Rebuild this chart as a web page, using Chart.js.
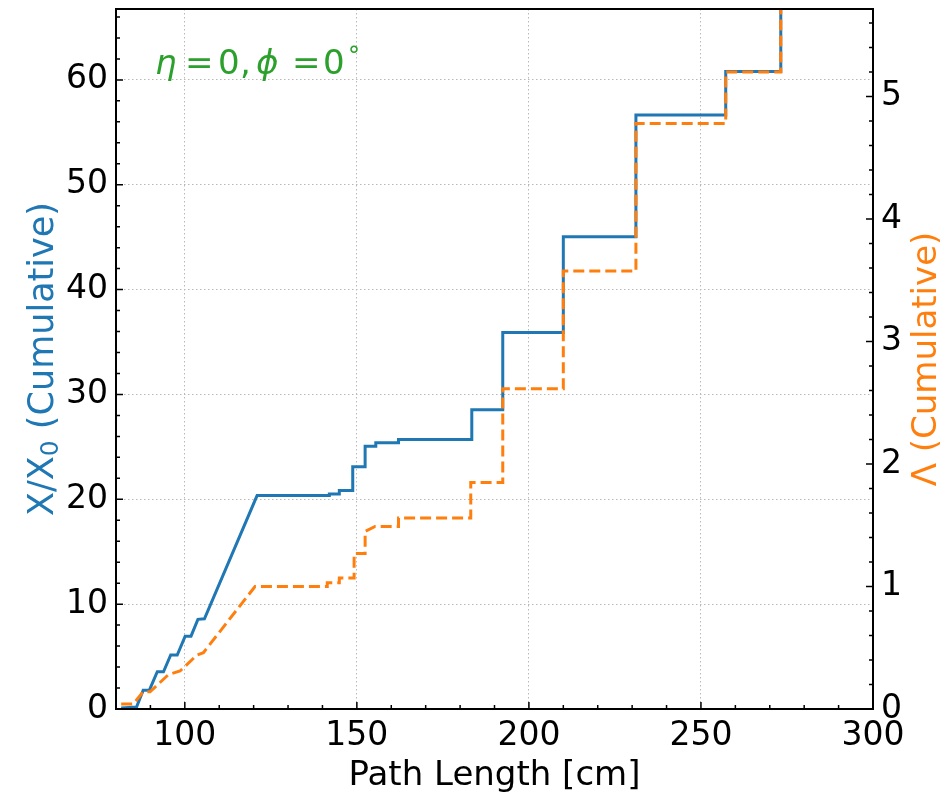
<!DOCTYPE html>
<html>
<head>
<meta charset="utf-8">
<script src="https://cdn.jsdelivr.net/npm/chart.js@4.4.0/dist/chart.umd.min.js"></script>
<style>
  html, body { margin: 0; padding: 0; background: #fff; }
  #wrap { width: 947px; height: 795px; }
</style>
</head>
<body>
<div id="wrap"><canvas id="chart" width="947" height="795"></canvas></div>
<script>
// cumulative radiation length X/X0 vs path length [cm]
const radX = [81.5, 86.0, 87.9, 89.7, 92.0, 93.8, 95.9, 97.8, 100.1, 101.8, 103.8, 105.7, 121.0,
  142.0, 142.0, 144.9, 144.9, 148.8, 148.8, 152.4, 152.4, 155.5, 155.5, 162.1, 162.1,
  183.4, 183.4, 192.4, 192.4, 210.0, 210.0, 231.1, 231.1, 257.2, 257.2, 273.2, 273.2];
const radY = [0.1, 0.2, 1.8, 1.8, 3.55, 3.55, 5.15, 5.15, 6.95, 6.95, 8.55, 8.6, 20.35,
  20.35, 20.5, 20.5, 20.85, 20.85, 23.1, 23.1, 25.05, 25.05, 25.4, 25.4, 25.7,
  25.7, 28.55, 28.55, 35.9, 35.9, 45.05, 45.05, 56.65, 56.65, 60.8, 60.8, 70];

// cumulative interaction length Lambda vs path length [cm]
const intX = [81.5, 85.0, 87.9, 89.9, 95.2, 98.6, 103.5, 105.4, 120.4,
  141.4, 141.4, 144.9, 144.9, 149.2, 149.2, 152.4, 152.4, 155.3, 162.1, 162.1,
  183.1, 183.1, 192.4, 192.4, 210.0, 210.0, 231.1, 231.1, 257.2, 257.2, 273.2, 273.2];
const intY = [0.04, 0.04, 0.14, 0.14, 0.28, 0.31, 0.44, 0.46, 1.0,
  1.0, 1.03, 1.03, 1.07, 1.07, 1.27, 1.27, 1.45, 1.49, 1.49, 1.56,
  1.56, 1.85, 1.85, 2.615, 2.615, 3.575, 3.575, 4.78, 4.78, 5.2, 5.2, 6];

const xTicks = [100, 150, 200, 250, 300];
const leftTicks = [0, 10, 20, 30, 40, 50, 60];
const rightTicks = [0, 1, 2, 3, 4, 5];

const FONT = "'DejaVu Sans', 'Liberation Sans', sans-serif";
const BLUE = '#1f77b4';
const ORANGE = '#ff7f0e';
const GREEN = '#2ca02c';

function pts(xs, ys) {
  return xs.map((x, i) => ({ x: x, y: ys[i] }));
}

function setTicks(list) {
  return function (scale) {
    scale.ticks = list.map(v => ({ value: v }));
  };
}

function noPad(scale) {
  scale.paddingTop = 0;
  scale.paddingBottom = 0;
  scale.paddingLeft = 0;
  scale.paddingRight = 0;
}

// frame, inward tick marks, axis titles and the label in the corner
const decorations = {
  id: 'decorations',
  afterDraw(chart) {
    const ctx = chart.ctx;
    const a = chart.chartArea;
    const sx = chart.scales.x, sl = chart.scales.y, sr = chart.scales.y2;
    ctx.save();

    // tick marks pointing inside
    ctx.strokeStyle = '#000';
    ctx.lineWidth = 1.5;
    ctx.beginPath();
    for (let v = 80; v <= 300; v += 10) {
      const px = sx.getPixelForValue(v);
      const len = v % 50 === 0 ? 7 : 4;
      ctx.moveTo(px, a.bottom); ctx.lineTo(px, a.bottom - len);
    }
    for (let v = 0; v <= 66; v += 2) {
      const py = sl.getPixelForValue(v);
      const len = v % 10 === 0 ? 7 : 4;
      ctx.moveTo(a.left, py); ctx.lineTo(a.left + len, py);
    }
    for (let i = 0; i <= 28; i++) {
      const py = sr.getPixelForValue(i * 0.2);
      const len = i % 5 === 0 ? 7 : 4;
      ctx.moveTo(a.right, py); ctx.lineTo(a.right - len, py);
    }
    ctx.stroke();

    // frame
    ctx.lineWidth = 2;
    ctx.strokeRect(a.left, a.top, a.right - a.left, a.bottom - a.top);

    const midY = (a.top + a.bottom) / 2;
    const midX = (a.left + a.right) / 2;

    // x title
    ctx.fillStyle = '#000';
    ctx.font = '34px ' + FONT;
    ctx.textAlign = 'center';
    ctx.textBaseline = 'alphabetic';
    ctx.fillText('Path Length [cm]', midX, 785);
    ctx.textAlign = 'left';

    // left title
    ctx.save();
    ctx.translate(53, midY);
    ctx.rotate(-Math.PI / 2);
    ctx.fillStyle = BLUE;
    ctx.textBaseline = 'alphabetic';
    const big = '35px ' + FONT, small = '25px ' + FONT;
    ctx.font = big;
    const p1 = 'X/X', p3 = ' (Cumulative)';
    const w1 = ctx.measureText(p1).width, w3 = ctx.measureText(p3).width;
    ctx.font = small;
    const w2 = ctx.measureText('0').width;
    let x0 = -(w1 + w2 + w3) / 2;
    ctx.font = big; ctx.fillText(p1, x0, 0);
    ctx.font = small; ctx.fillText('0', x0 + w1, 5);
    ctx.font = big; ctx.fillText(p3, x0 + w1 + w2, 0);
    ctx.restore();

    // right title
    ctx.save();
    ctx.translate(936, midY);
    ctx.rotate(-Math.PI / 2);
    ctx.fillStyle = ORANGE;
    ctx.font = '34px ' + FONT;
    ctx.textAlign = 'center';
    ctx.textBaseline = 'alphabetic';
    ctx.fillText('\u039B (Cumulative)', 0, 0);
    ctx.restore();

    // eta / phi label, glyph by glyph like mathtext
    ctx.fillStyle = GREEN;
    ctx.textBaseline = 'alphabetic';
    const ty = a.top + 65;
    const it = 'italic 34px ' + FONT, up = '34px ' + FONT;
    const glyphs = [
      [it, '\u03B7', 39, 0],
      [up, '=', 69, 0],
      [up, '0', 102, 0],
      [up, ',', 124, 0],
      [it, '\u03D5', 140, 0],
      [up, '=', 176, 0],
      [up, '0', 207, 0],
      ['24px ' + FONT, '\u00B0', 232, -10]
    ];
    glyphs.forEach(g => {
      ctx.font = g[0];
      ctx.fillText(g[1], a.left + g[2], ty + g[3]);
    });

    ctx.restore();
  }
};

Chart.defaults.font.family = FONT;

new Chart(document.getElementById('chart'), {
  type: 'line',
  data: {
    datasets: [
      {
        label: 'Lambda',
        data: pts(intX, intY),
        yAxisID: 'y2',
        borderColor: ORANGE,
        borderWidth: 3,
        borderDash: [11, 5],
        pointRadius: 0,
        tension: 0,
        fill: false,
        order: 0,
        clip: { left: 5, top: 0, right: 5, bottom: 5 }
      },
      {
        label: 'X/X0',
        data: pts(radX, radY),
        yAxisID: 'y',
        borderColor: BLUE,
        borderWidth: 3,
        pointRadius: 0,
        tension: 0,
        fill: false,
        order: 1,
        clip: { left: 5, top: 0, right: 5, bottom: 5 }
      }
    ]
  },
  options: {
    responsive: false,
    animation: false,
    devicePixelRatio: 1,
    layout: { padding: { top: 9, left: 0, right: 0, bottom: 0 } },
    plugins: {
      legend: { display: false },
      tooltip: { enabled: false }
    },
    scales: {
      x: {
        type: 'linear',
        min: 80,
        max: 300,
        afterBuildTicks: setTicks(xTicks),
        afterFit(scale) { scale.height = 86; noPad(scale); },
        grid: { color: '#b8b8b8', lineWidth: 1, drawTicks: false },
        border: { display: false, dash: [1.5, 2.5] },
        ticks: { color: '#000', font: { size: 33 }, padding: 8, maxRotation: 0 }
      },
      y: {
        type: 'linear',
        position: 'left',
        min: 0,
        max: 66.76,
        afterBuildTicks: setTicks(leftTicks),
        afterFit(scale) { scale.width = 116; noPad(scale); },
        grid: { color: '#b8b8b8', lineWidth: 1, drawTicks: false },
        border: { display: false, dash: [1.5, 2.5] },
        ticks: { color: '#000', font: { size: 33 }, padding: 8 }
      },
      y2: {
        type: 'linear',
        position: 'right',
        min: 0,
        max: 5.715,
        afterBuildTicks: setTicks(rightTicks),
        afterFit(scale) { scale.width = 74; noPad(scale); },
        grid: { display: false, drawTicks: false },
        border: { display: false },
        ticks: { color: '#000', font: { size: 33 }, padding: 8 }
      }
    }
  },
  plugins: [decorations]
});
</script>
</body>
</html>
